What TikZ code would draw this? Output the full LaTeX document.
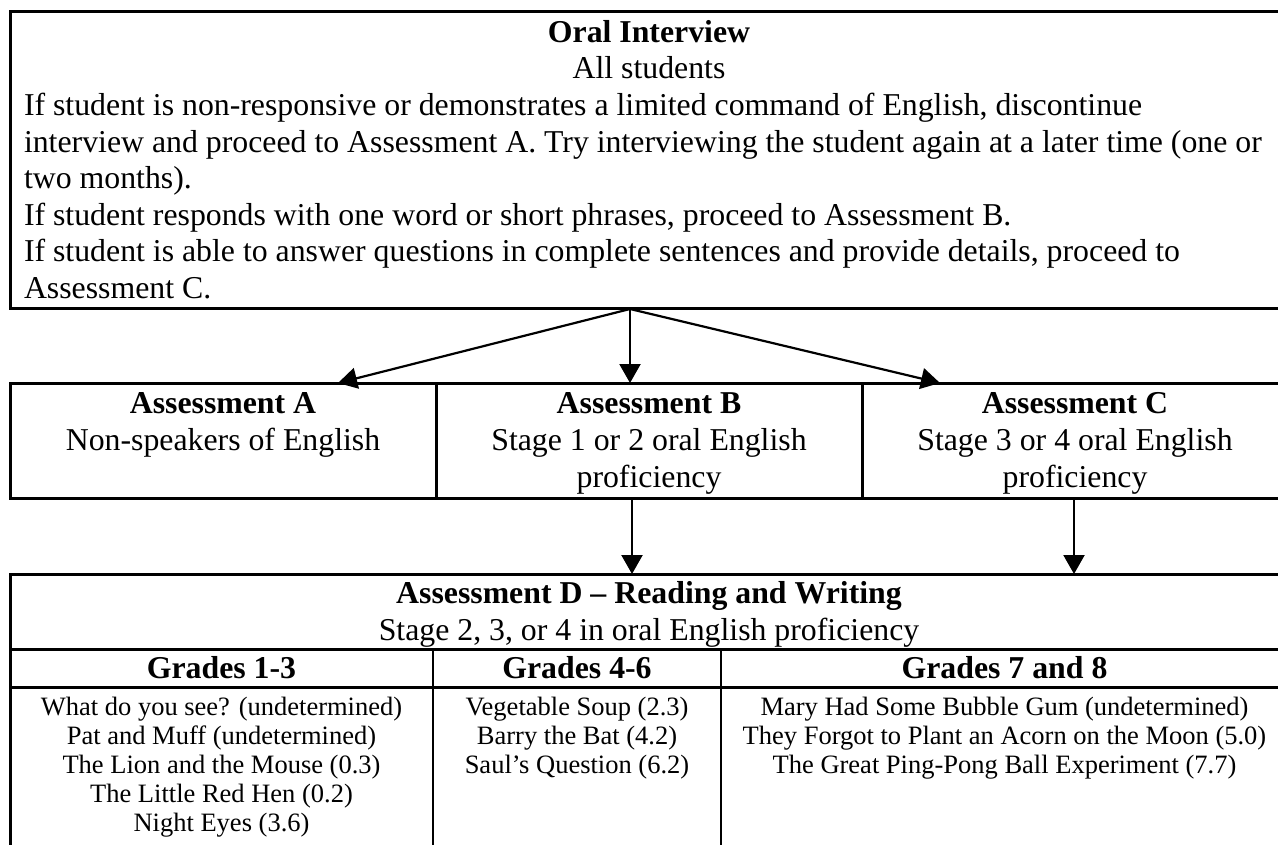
\documentclass[tikz,border=0pt]{standalone}
\usepackage{fontspec}
\setmainfont{Liberation Serif}
\usetikzlibrary{arrows.meta}
\begin{document}
\begin{tikzpicture}[x=1pt,y=-1pt,
  box/.style={draw,line width=3pt,inner sep=0pt,outer sep=0pt,anchor=north west},
  divider/.style={line width=2.4pt},
  rule/.style={line width=3pt},
  arr/.style={line width=2.2pt,-{Triangle[length=19pt,width=21pt]}},
  big/.style={font=\fontsize{31.8}{36.6}\selectfont,inner sep=0pt,outer sep=0pt},
  bigb/.style={font=\fontsize{31.8}{36.6}\selectfont\bfseries,inner sep=0pt,outer sep=0pt},
  small/.style={font=\fontsize{26.5}{29}\selectfont,inner sep=0pt,outer sep=0pt}]
\useasboundingbox (0,0) rectangle (1278,844);
\clip (0,0) rectangle (1278,844);

% Oral interview box
\node[box,minimum width=1278pt,minimum height=297pt] (oral) at (10,11) {};
\node[bigb,anchor=base] (oralT) at (649,42) {Oral Interview};
\node[big,anchor=base] (oralS) at (649,78) {All students};
\node[big,anchor=base west] (l1) at (24,115) {If student is non-responsive or demonstrates a limited command of English, discontinue};
\node[big,anchor=base west] (l2) at (24,152) {interview and proceed to Assessment A. Try interviewing the student again at a later time (one or};
\node[big,anchor=base west] (l3) at (24,188) {two months).};
\node[big,anchor=base west] (l4) at (24,225) {If student responds with one word or short phrases, proceed to Assessment B.};
\node[big,anchor=base west] (l5) at (24,261) {If student is able to answer questions in complete sentences and provide details, proceed to};
\node[big,anchor=base west] (l6) at (24,298) {Assessment C.};

% Assessment A, B, C
\node[box,minimum width=426pt,minimum height=115pt] (A) at (10,383) {};
\node[box,minimum width=426pt,minimum height=115pt] (B) at (436,383) {};
\node[box,minimum width=426pt,minimum height=115pt] (C) at (862,383) {};
\node[bigb,anchor=base] (At) at (223,413) {Assessment A};
\node[big,anchor=base] (As) at (223,450) {Non-speakers of English};
\node[bigb,anchor=base] (Bt) at (649,413) {Assessment B};
\node[big,anchor=base] (Bs1) at (649,450) {Stage 1 or 2 oral English};
\node[big,anchor=base] (Bs2) at (649,487) {proficiency};
\node[bigb,anchor=base] (Ct) at (1075,413) {Assessment C};
\node[big,anchor=base] (Cs1) at (1075,450) {Stage 3 or 4 oral English};
\node[big,anchor=base] (Cs2) at (1075,487) {proficiency};

% arrows from oral interview
\coordinate (o) at (630,309);
\coordinate (tA) at (338,383);
\coordinate (tB) at (630,383);
\coordinate (tC) at (940,383);
\draw[arr] (o) -- (tA);
\draw[arr] (o) -- (tB);
\draw[arr] (o) -- (tC);

% Assessment D table
\node[box,minimum width=1278pt,minimum height=320pt] (D) at (10,574) {};
\coordinate (bB) at (632,498);
\coordinate (dB) at (632,574);
\coordinate (bC) at (1074,498);
\coordinate (dC) at (1074,574);
\draw[arr] (bB) -- (dB);
\draw[arr] (bC) -- (dC);

\node[bigb,anchor=base] (Dt) at (649,603) {Assessment D – Reading and Writing};
\node[big,anchor=base] (Ds) at (649,640) {Stage 2, 3, or 4 in oral English proficiency};
\draw[rule] (10,649) -- (1288,649);
\draw[rule] (10,687) -- (1288,687);
\draw[divider] (433,649) -- (433,900);
\draw[divider] (721,649) -- (721,900);

\node[bigb,anchor=base] (g1) at (221.5,678) {Grades 1-3};
\node[bigb,anchor=base] (g2) at (577,678) {Grades 4-6};
\node[bigb,anchor=base] (g3) at (1004.5,678) {Grades 7 and 8};

\node[small,anchor=base] (a1) at (221.5,715) {What do you see? (undetermined)};
\node[small,anchor=base] (a2) at (221.5,744) {Pat and Muff (undetermined)};
\node[small,anchor=base] (a3) at (221.5,773) {The Lion and the Mouse (0.3)};
\node[small,anchor=base] (a4) at (221.5,802) {The Little Red Hen (0.2)};
\node[small,anchor=base] (a5) at (221.5,831) {Night Eyes (3.6)};

\node[small,anchor=base] (b1) at (577,715) {Vegetable Soup (2.3)};
\node[small,anchor=base] (b2) at (577,744) {Barry the Bat (4.2)};
\node[small,anchor=base] (b3) at (577,773) {Saul’s Question (6.2)};

\node[small,anchor=base] (c1) at (1004.5,715) {Mary Had Some Bubble Gum (undetermined)};
\node[small,anchor=base] (c2) at (1004.5,744) {They Forgot to Plant an Acorn on the Moon (5.0)};
\node[small,anchor=base] (c3) at (1004.5,773) {The Great Ping-Pong Ball Experiment (7.7)};
\end{tikzpicture}
\end{document}
